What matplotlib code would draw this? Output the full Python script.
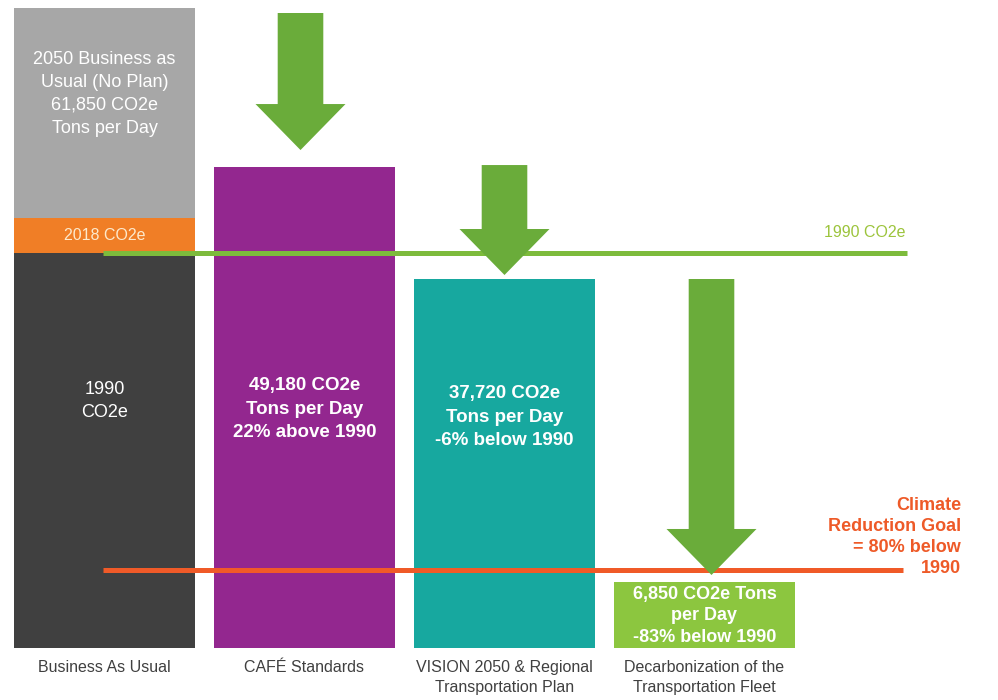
import numpy as np
import matplotlib.pyplot as plt
from matplotlib.patches import FancyArrow

plt.rcParams['font.family'] = ['Liberation Sans', 'DejaVu Sans']

# data (tons CO2e per day, heights as drawn in the graphic)
categories = ['Business As Usual', 'CAFÉ Standards',
              'VISION 2050 & Regional\nTransportation Plan',
              'Decarbonization of the\nTransportation Fleet']
bar_tops = [61850, 46480, 35660, 6380]
level_1990 = 38170
level_2018 = 41560
goal_level = 7540

bar_colors = ['#a7a7a7', '#93278f', '#17a89f', '#8cc63f']
bar_texts = ['2050 Business as\nUsual (No Plan)\n61,850 CO2e\nTons per Day',
             '49,180 CO2e\nTons per Day\n22% above 1990',
             '37,720 CO2e\nTons per Day\n-6% below 1990',
             '6,850 CO2e Tons\nper Day\n-83% below 1990']

# pixel geometry helpers
scale = 61850 / 640.0   # tons per pixel


def py(p):
    return (648 - p) * scale


def px(p):
    return (p - 104.5) / 200.0


fig = plt.figure(figsize=(9.98, 7), dpi=100)
ax = fig.add_axes([0, 0, 1, 1])
ax.set_xlim(px(0), px(998))
ax.set_ylim(py(700), py(0))
ax.axis('off')

x = np.arange(len(categories))
w = 0.905

# bars
ax.bar(x[1:], bar_tops[1:], width=w, color=bar_colors[1:], zorder=2)
# business as usual stacked
ax.bar(x[0], level_1990, width=w, color='#404040', zorder=2)
ax.bar(x[0], level_2018 - level_1990, bottom=level_1990, width=w,
       color='#f07e26', zorder=2)
ax.bar(x[0], bar_tops[0] - level_2018, bottom=level_2018, width=w,
       color=bar_colors[0], zorder=2)

# reference lines
ax.plot([px(103), px(907)], [level_1990, level_1990], color='#7dbb3c',
        lw=3.6, solid_capstyle='butt', zorder=3)
ax.plot([px(103), px(903)], [goal_level, goal_level], color='#f05a28',
        lw=3.6, solid_capstyle='butt', zorder=3)

# arrows between bars
tails = [bar_tops[0] - 5 * scale, bar_tops[1] + 2 * scale, bar_tops[2]]
tips = [bar_tops[1] + 17 * scale, bar_tops[2] + 4 * scale, goal_level - 5 * scale]
arrow_x = [x[1] - 0.02, x[2] + 0.0, x[3] + 0.035]
for ax_x, t0, t1 in zip(arrow_x, tails, tips):
    ax.add_patch(FancyArrow(ax_x, t0, 0, t1 - t0, width=0.228,
                            head_width=0.45, head_length=46 * scale,
                            length_includes_head=True, color='#6aac3a',
                            lw=0, zorder=4))

# texts in bars
ax.text(x[0], py(94), bar_texts[0], ha='center', va='center', color='white',
        fontsize=13, linespacing=1.45, zorder=5)
ax.text(x[0], py(235), '2018 CO2e', ha='center', va='center', color='#fde9cc',
        fontsize=11.5, zorder=5)
ax.text(x[0], py(401), '1990\nCO2e', ha='center', va='center', color='white',
        fontsize=13, linespacing=1.45, zorder=5)
ax.text(x[1], py(409), bar_texts[1], ha='center', va='center', color='white',
        fontsize=13.5, fontweight='bold', linespacing=1.5, zorder=5)
ax.text(x[2], py(417), bar_texts[2], ha='center', va='center', color='white',
        fontsize=13.5, fontweight='bold', linespacing=1.5, zorder=5)
ax.text(x[3], py(616), bar_texts[3], ha='center', va='center', color='white',
        fontsize=13, fontweight='bold', linespacing=1.32, zorder=5)

ax.text(px(905), py(232), '1990 CO2e', ha='right', va='center',
        color='#9cc43c', fontsize=11.5, zorder=5)
ax.text(px(961), py(537), 'Climate\nReduction Goal\n= 80% below\n1990',
        ha='right', va='center', color='#ee5a28', fontsize=13,
        fontweight='bold', linespacing=1.33, zorder=5)

# category labels
for xi, lab in zip(x, categories):
    ax.text(xi, py(660), lab, ha='center', va='top', color='#404040',
            fontsize=11.5, linespacing=1.45)

fig.savefig('out.png', dpi=100)
